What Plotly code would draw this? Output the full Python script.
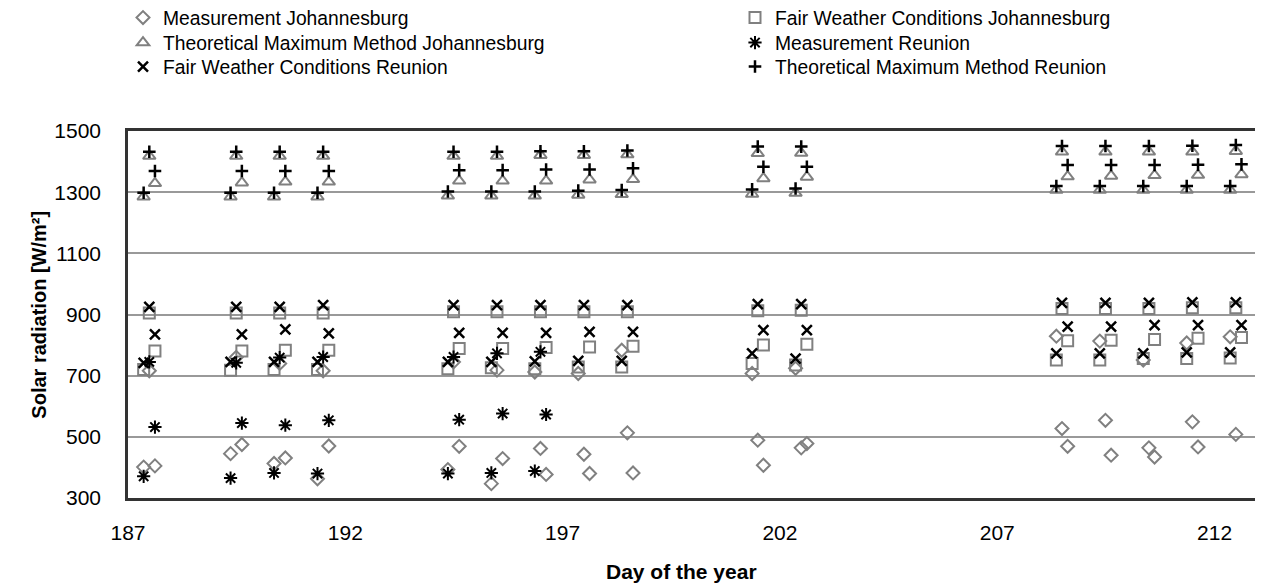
import plotly.graph_objects as go

# ---------------- data ----------------
days = [187, 189, 190, 191, 194, 195, 196, 197, 198, 201, 202, 208, 209, 210, 211, 212]
slot_offsets = [0.36, 0.49, 0.62]   # three readings per day (fraction of the day)

meas_joh = [
    401, 716, 405,   # 187
    445, 760, 475,   # 189
    413, 740, 431,   # 190
    363, 716, 470,   # 191
    393, 745, 469,   # 194
    347, 718, 429,   # 195
    712, 462, 377,   # 196
    707, 443, 380,   # 197
    783, 513, 382,   # 198
    707, 489, 407,   # 201
    724, 464, 478,   # 202
    829, 527, 469,   # 208
    813, 554, 440,   # 209
    751, 464, 434,   # 210
    807, 549, 467,   # 211
    827, 508, None,  # 212
]
fwc_joh = [
    720, 905, 781,
    718, 905, 781,
    720, 905, 783,
    720, 905, 783,
    723, 909, 789,
    726, 909, 789,
    723, 909, 792,
    728, 909, 794,
    728, 909, 796,
    740, 912, 800,
    735, 914, 803,
    751, 920, 814,
    751, 920, 816,
    756, 920, 818,
    756, 922, 822,
    758, 922, 825,
]
tmm_joh = [
    1285, 1418, 1329,
    1285, 1418, 1331,
    1285, 1418, 1334,
    1285, 1418, 1334,
    1288, 1418, 1337,
    1288, 1418, 1337,
    1288, 1421, 1337,
    1291, 1421, 1341,
    1293, 1423, 1342,
    1294, 1427, 1345,
    1297, 1428, 1350,
    1307, 1432, 1351,
    1307, 1432, 1353,
    1307, 1432, 1355,
    1307, 1432, 1356,
    1307, 1434, 1358,
]
meas_reu = [
    371, 745, 532,
    365, 742, 545,
    382, 759, 538,
    380, 761, 554,
    380, 761, 556,
    382, 773, 576,
    388, 778, 573,
    None, None, None,
    None, None, None,
    None, None, None,
    None, None, None,
    None, None, None,
    None, None, None,
    None, None, None,
    None, None, None,
    None, None, None,
]
fwc_reu = [
    742, 925, 835,
    745, 925, 835,
    745, 925, 851,
    745, 931, 838,
    745, 931, 840,
    745, 931, 840,
    747, 931, 840,
    748, 931, 843,
    748, 931, 843,
    773, 934, 849,
    756, 934, 849,
    773, 938, 860,
    773, 938, 860,
    773, 938, 865,
    776, 940, 865,
    776, 940, 865,
]
tmm_reu = [
    1298, 1432, 1369,
    1298, 1432, 1369,
    1298, 1432, 1369,
    1298, 1432, 1369,
    1302, 1432, 1372,
    1302, 1432, 1372,
    1302, 1434, 1374,
    1305, 1434, 1374,
    1307, 1436, 1378,
    1309, 1449, 1383,
    1312, 1449, 1383,
    1320, 1451, 1389,
    1320, 1451, 1389,
    1320, 1451, 1389,
    1320, 1452, 1390,
    1320, 1454, 1391,
]

x_ticks = [187, 192, 197, 202, 207, 212]
y_ticks = [300, 500, 700, 900, 1100, 1300, 1500]
x_title = "Day of the year"
y_title = "Solar radiation [W/m²]"

x_vals = [d + o for d in days for o in slot_offsets]

GRAY = "#808080"
BLACK = "#000000"
FONT = "Liberation Sans, Arial, sans-serif"

W, H = 1255, 577
L, T, B, R = 120, 123, 87, 5
PLOT_H = H - T - B

# legend slots: (left px of legend in figure, row centre px in figure)
col_left = [115, 727]
row_mid = [10, 35, 59]

series = [
    ("Measurement Johannesburg", meas_joh, "diamond-open", 10, GRAY, 2),
    ("Fair Weather Conditions Johannesburg", fwc_joh, "square-open", 11, GRAY, 2),
    ("Theoretical Maximum Method Johannesburg", tmm_joh, "triangle-up-open", 11, GRAY, 2),
    ("Measurement Reunion", meas_reu, "asterisk-open", 11, BLACK, 2),
    ("Fair Weather Conditions Reunion", fwc_reu, "x-thin-open", 10, BLACK, 2.5),
    ("Theoretical Maximum Method Reunion", tmm_reu, "cross-thin-open", 9, BLACK, 2.5),
]

fig = go.Figure()
legend_layouts = {}
for i, (name, ys, sym, size, col, lw) in enumerate(series):
    key = "legend" if i == 0 else "legend%d" % (i + 1)
    fig.add_trace(go.Scatter(
        x=x_vals, y=ys, mode="markers", name=name, legend=key, showlegend=True,
        marker=dict(symbol=sym, size=size, color=col, line=dict(color=col, width=lw)),
    ))
    r, c = divmod(i, 2)
    legend_layouts[key] = dict(
        xref="container", yref="paper",
        x=col_left[c] / W, y=1 + (T - row_mid[r]) / PLOT_H,
        xanchor="left", yanchor="middle", orientation="v", visible=True,
        font=dict(family=FONT, size=19.3), bgcolor="rgba(0,0,0,0)", itemwidth=30,
    )

fig.update_layout(
    width=W, height=H, showlegend=True,
    paper_bgcolor="white", plot_bgcolor="white",
    margin=dict(l=L, r=R, t=T, b=B, autoexpand=False),
    font=dict(family=FONT, size=19, color="black"),
    xaxis=dict(
        range=[187, 213], tickmode="array", tickvals=x_ticks,
        ticktext=[str(v) for v in x_ticks], tickangle=0,
        showgrid=False, zeroline=False,
        showline=True, linecolor="#333333", linewidth=2.5, mirror=True,
        ticks="", ticklabelstandoff=14,
        tickfont=dict(family=FONT, size=21),
    ),
    yaxis=dict(
        range=[300, 1500], tickmode="array", tickvals=y_ticks,
        ticktext=[str(v) for v in y_ticks],
        showgrid=True, gridcolor="#999999", gridwidth=1.5, zeroline=False,
        showline=True, linecolor="#333333", linewidth=2.5, mirror=True,
        ticks="", ticklabelstandoff=20,
        tickfont=dict(family=FONT, size=21),
    ),
    annotations=[
        dict(text="<b>" + x_title + "</b>", xref="paper", yref="paper",
             x=0.49, y=-0.2, xanchor="center", yanchor="middle", showarrow=False,
             font=dict(family=FONT, size=21)),
        dict(text="<b>" + y_title + "</b>", xref="paper", yref="paper",
             x=-0.0795, y=0.5, xanchor="center", yanchor="middle", showarrow=False,
             textangle=-90, font=dict(family=FONT, size=20)),
    ],
    **legend_layouts,
)

fig.write_html("out.html")
